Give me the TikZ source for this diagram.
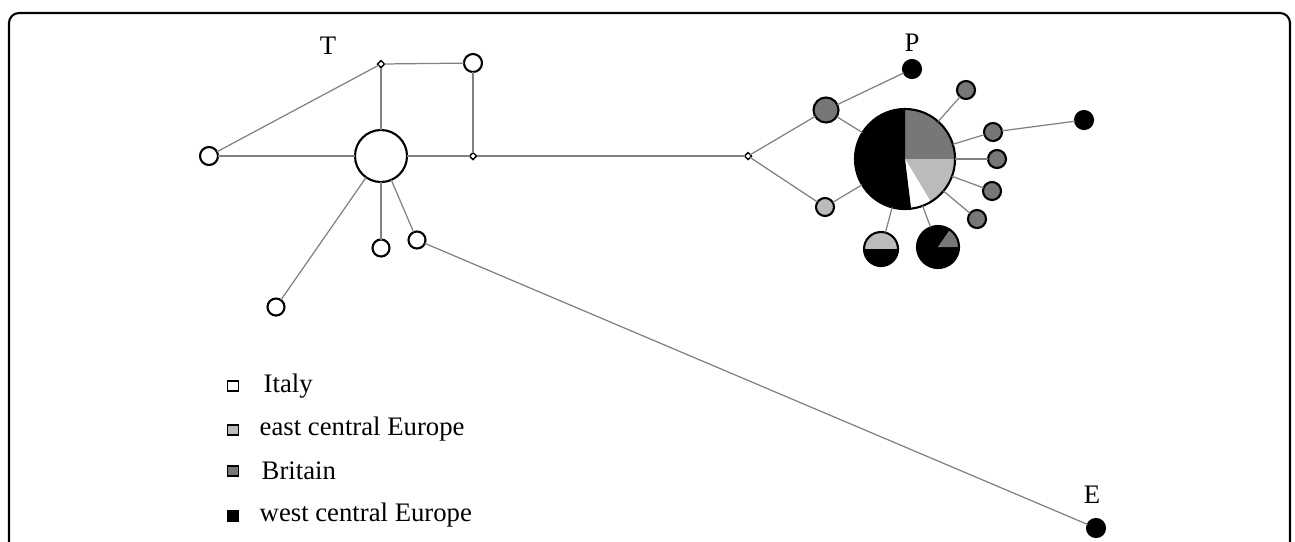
\documentclass[tikz,border=0pt]{standalone}
\usepackage{fontspec}
\setmainfont{Liberation Serif}
\usetikzlibrary{shapes.geometric}
\definecolor{lgray}{HTML}{BBBBBB}
\definecolor{dgray}{HTML}{777777}
\definecolor{lnk}{HTML}{808080}
\tikzset{
  conn/.style={draw=lnk, line width=0.35pt},
  hap/.style={circle, draw=black, line width=0.6pt, inner sep=0pt, outer sep=0pt, minimum size=#1},
  hap/.default=0.18cm,
  junc/.style={diamond, draw=black, fill=white, line width=0.4pt, inner sep=0pt, outer sep=0pt, minimum size=0.07cm},
  lab/.style={font=\fontsize{7.6}{8}\selectfont, inner sep=0pt},
  legsq/.style={rectangle, draw=black, line width=0.55pt, inner sep=0pt, minimum width=0.11cm, minimum height=0.095cm},
  legtx/.style={font=\fontsize{7.6}{8}\selectfont, inner sep=0pt, anchor=west},
}
\begin{document}
\begin{tikzpicture}[x=0.01cm, y=0.01cm]
\useasboundingbox (0,0) rectangle (1295,-541);
% frame
\draw[line width=0.6pt, rounded corners=0.1cm] (9,-600) -- (9,-13) -- (1290,-13) -- (1290,-600);

% pie slices (drawn before outlines)
\coordinate (pc) at (905,-159);
\fill[dgray] (pc) -- ++(90:0.5cm) arc[start angle=90, end angle=0, radius=0.5cm] -- cycle;
\fill[lgray] (pc) -- ++(0:0.5cm) arc[start angle=0, end angle=-59, radius=0.5cm] -- cycle;
\fill[white] (pc) -- ++(-59:0.5cm) arc[start angle=-59, end angle=-83, radius=0.5cm] -- cycle;
\fill[black] (pc) -- ++(-83:0.5cm) arc[start angle=-83, end angle=-270, radius=0.5cm] -- cycle;

\coordinate (pac) at (881,-249);
\fill[lgray] (pac) -- ++(0:0.17cm) arc[start angle=0, end angle=180, radius=0.17cm] -- cycle;
\fill[black] (pac) -- ++(180:0.17cm) arc[start angle=180, end angle=360, radius=0.17cm] -- cycle;

\coordinate (pbc) at (938,-247);
\fill[black] (pbc) -- ++(55:0.21cm) arc[start angle=55, end angle=360, radius=0.21cm] -- cycle;
\fill[dgray] (pbc) -- ++(0:0.21cm) arc[start angle=0, end angle=55, radius=0.21cm] -- cycle;

% left cluster nodes
\node[hap=0.52cm] (C) at (381,-156) {};
\node[junc] (A) at (381,-64) {};
\node[hap] (B) at (473,-63) {};
\node[hap] (D) at (209,-156) {};
\node[junc] (J) at (473,-156) {};
\node[junc] (F) at (748,-156) {};
\node[hap=0.17cm] (b1) at (381,-248) {};
\node[hap=0.17cm] (b2) at (417,-240) {};
\node[hap=0.17cm] (b3) at (276,-307) {};
\node[hap, fill=black] (En) at (1096,-528) {};

% right cluster nodes
\node[hap=1.0cm] (pie) at (pc) {};
\node[hap=0.34cm] (pa) at (pac) {};
\node[hap=0.42cm] (pb) at (pbc) {};
\node[hap=0.25cm, fill=dgray] (g1) at (826,-110) {};
\node[hap, fill=lgray] (l1) at (825,-207) {};
\node[hap, fill=black] (Pn) at (912,-69) {};
\node[hap, fill=dgray] (s1) at (966,-90) {};
\node[hap, fill=dgray] (s2) at (993,-132) {};
\node[hap, fill=dgray] (s3) at (997,-159) {};
\node[hap, fill=dgray] (s4) at (992,-191) {};
\node[hap, fill=dgray] (s5) at (977,-219) {};
\node[hap, fill=black] (bf) at (1084,-120) {};

% connectors
\draw[conn] (D) -- (C);
\draw[conn] (D) -- (A);
\draw[conn] (A) -- (C);
\draw[conn] (A) -- (B);
\draw[conn] (B) -- (J);
\draw[conn] (C) -- (J);
\draw[conn] (J) -- (F);
\draw[conn] (C) -- (b1);
\draw[conn] (C) -- (b2);
\draw[conn] (C) -- (b3);
\draw[conn] (b2) -- (En);
\draw[conn] (F) -- (g1);
\draw[conn] (F) -- (l1);
\draw[conn] (g1) -- (Pn);
\draw[conn] (g1) -- (pie);
\draw[conn] (l1) -- (pie);
\draw[conn] (pie) -- (s1);
\draw[conn] (pie) -- (s2);
\draw[conn] (s2) -- (bf);
\draw[conn] (pie) -- (s3);
\draw[conn] (pie) -- (s4);
\draw[conn] (pie) -- (s5);
\draw[conn] (pie) -- (pa);
\draw[conn] (pie) -- (pb);

% labels
\node[lab] (Tl) at (328,-46) {T};
\node[lab] (Pl) at (912,-43) {P};
\node[lab] (El) at (1092,-495) {E};

% legend
\node[legsq, fill=white] (q1) at (233,-386) {};
\node[legsq, fill=lgray] (q2) at (233,-430) {};
\node[legsq, fill=dgray] (q3) at (233,-471) {};
\node[legsq, fill=black] (q4) at (233,-516) {};
\node[legtx] (t1) at (263,-386) {Italy};
\node[legtx] (t2) at (259,-429) {east central Europe};
\node[legtx] (t3) at (261,-471) {Britain};
\node[legtx] (t4) at (259,-515) {west central Europe};
\end{tikzpicture}
\end{document}
